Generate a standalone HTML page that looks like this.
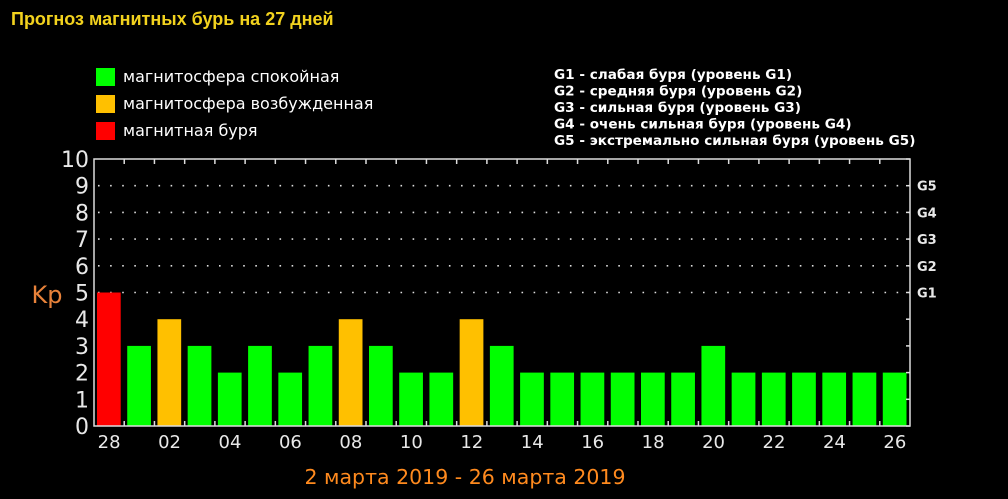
<!DOCTYPE html>
<html><head><meta charset="utf-8"><style>
html,body{margin:0;padding:0;background:#000;width:1008px;height:499px;overflow:hidden}
svg{display:block}
</style></head><body>
<svg id="chart" width="1008" height="499" xmlns="http://www.w3.org/2000/svg">
<rect width="1008" height="499" fill="#000"/>
<text x="11" y="25" fill="#f2d21e" font-family="'Liberation Sans','DejaVu Sans',sans-serif" font-weight="bold" font-size="18">Прогноз магнитных бурь на 27 дней</text>
<g font-family="'DejaVu Sans','Liberation Sans',sans-serif" font-size="16" fill="#fff">
<rect x="96" y="68" width="19" height="18" fill="#00ff00"/>
<text x="123" y="82">магнитосфера спокойная</text>
<rect x="96" y="95" width="19" height="18" fill="#ffc000"/>
<text x="123" y="109">магнитосфера возбужденная</text>
<rect x="96" y="122" width="19" height="18" fill="#ff0000"/>
<text x="123" y="136">магнитная буря</text>
</g>
<g font-family="'DejaVu Sans','Liberation Sans',sans-serif" font-size="13.6" font-weight="bold" fill="#fff">
<text x="554" y="79">G1 - слабая буря (уровень G1)</text>
<text x="554" y="95.5">G2 - средняя буря (уровень G2)</text>
<text x="554" y="112">G3 - сильная буря (уровень G3)</text>
<text x="554" y="128.5">G4 - очень сильная буря (уровень G4)</text>
<text x="554" y="145">G5 - экстремально сильная буря (уровень G5)</text>
</g>
<g id="plot"></g>
<text x="47" y="303" fill="#e8823a" font-family="'DejaVu Sans',sans-serif" font-size="24" text-anchor="middle">Kp</text>
<text x="465" y="484" fill="#ff8a1e" font-family="'DejaVu Sans',sans-serif" font-size="20.5" text-anchor="middle">2 марта 2019 - 26 марта 2019</text>
</svg>
<script>
const days = ["28","01","02","03","04","05","06","07","08","09","10","11","12","13","14","15","16","17","18","19","20","21","22","23","24","25","26"];
const kpValues = [5,3,4,3,2,3,2,3,4,3,2,2,4,3,2,2,2,2,2,2,3,2,2,2,2,2,2];
const yTicks = [0,1,2,3,4,5,6,7,8,9,10];
const gLevels = ["G1","G2","G3","G4","G5"];
const gKp = [5,6,7,8,9];

const NS = "http://www.w3.org/2000/svg";
const L = 94, R = 910, T = 159, B = 426, YMAX = 10;
const slot = (R - L) / days.length;
const yS = v => B - v / YMAX * (B - T);
const xS = i => L + i * slot;
const g = document.getElementById('plot');
function mk(tag, attrs) { const e = document.createElementNS(NS, tag); for (const k in attrs) e.setAttribute(k, attrs[k]); g.appendChild(e); return e; }
function color(v) { return v >= 5 ? "#ff0000" : v === 4 ? "#ffc000" : "#00ff00"; }

for (let v = 5; v <= 9; v++) {
  const l = mk('line', {x1: L + 4, x2: R, y1: yS(v), y2: yS(v), stroke: "#ddd", "stroke-width": 1.6, "stroke-dasharray": "1.6 10.5"});
  
  
}
kpValues.forEach((v, i) => {
  const r = mk('rect', {x: xS(i) + 3, y: yS(v), width: slot - 6.5, height: B - yS(v), fill: color(v)});
  
  
});
const fr = mk('rect', {x: L, y: T, width: R - L, height: B - T, fill: "none", stroke: "#ddd", "stroke-width": 1.5});


for (let i = 1; i < days.length; i++) {
  const a = mk('line', {x1: xS(i), x2: xS(i), y1: B, y2: B - 5, stroke: "#ddd", "stroke-width": 1.5});
  
  
  const b = mk('line', {x1: xS(i), x2: xS(i), y1: T, y2: T + 5, stroke: "#ddd", "stroke-width": 1.5});
  
  
}
yTicks.forEach(v => {
  const t = mk('line', {x1: R, x2: R - 4, y1: yS(v), y2: yS(v), stroke: "#ddd", "stroke-width": 1.5});
  
  
});
yTicks.forEach(v => {
  const t = mk('text', {x: 89, y: yS(v) + 8, fill: "#e8e8e8", "font-family": "'DejaVu Sans',sans-serif", "font-size": 22, "text-anchor": "end"});
  t.textContent = v;
  
  
});
gLevels.forEach((s, i) => {
  const t = mk('text', {x: 917, y: yS(gKp[i]) + 5, fill: "#e8e8e8", "font-family": "'DejaVu Sans',sans-serif", "font-size": 13, "font-weight": "bold"});
  t.textContent = s;
  
  
});
days.forEach((d, i) => {
  if (i % 2) return;
  const t = mk('text', {x: xS(i) + slot / 2, y: 448, fill: "#e8e8e8", "font-family": "'DejaVu Sans',sans-serif", "font-size": 18, "text-anchor": "middle"});
  t.textContent = d;
  
  
});
</script>
</body></html>
